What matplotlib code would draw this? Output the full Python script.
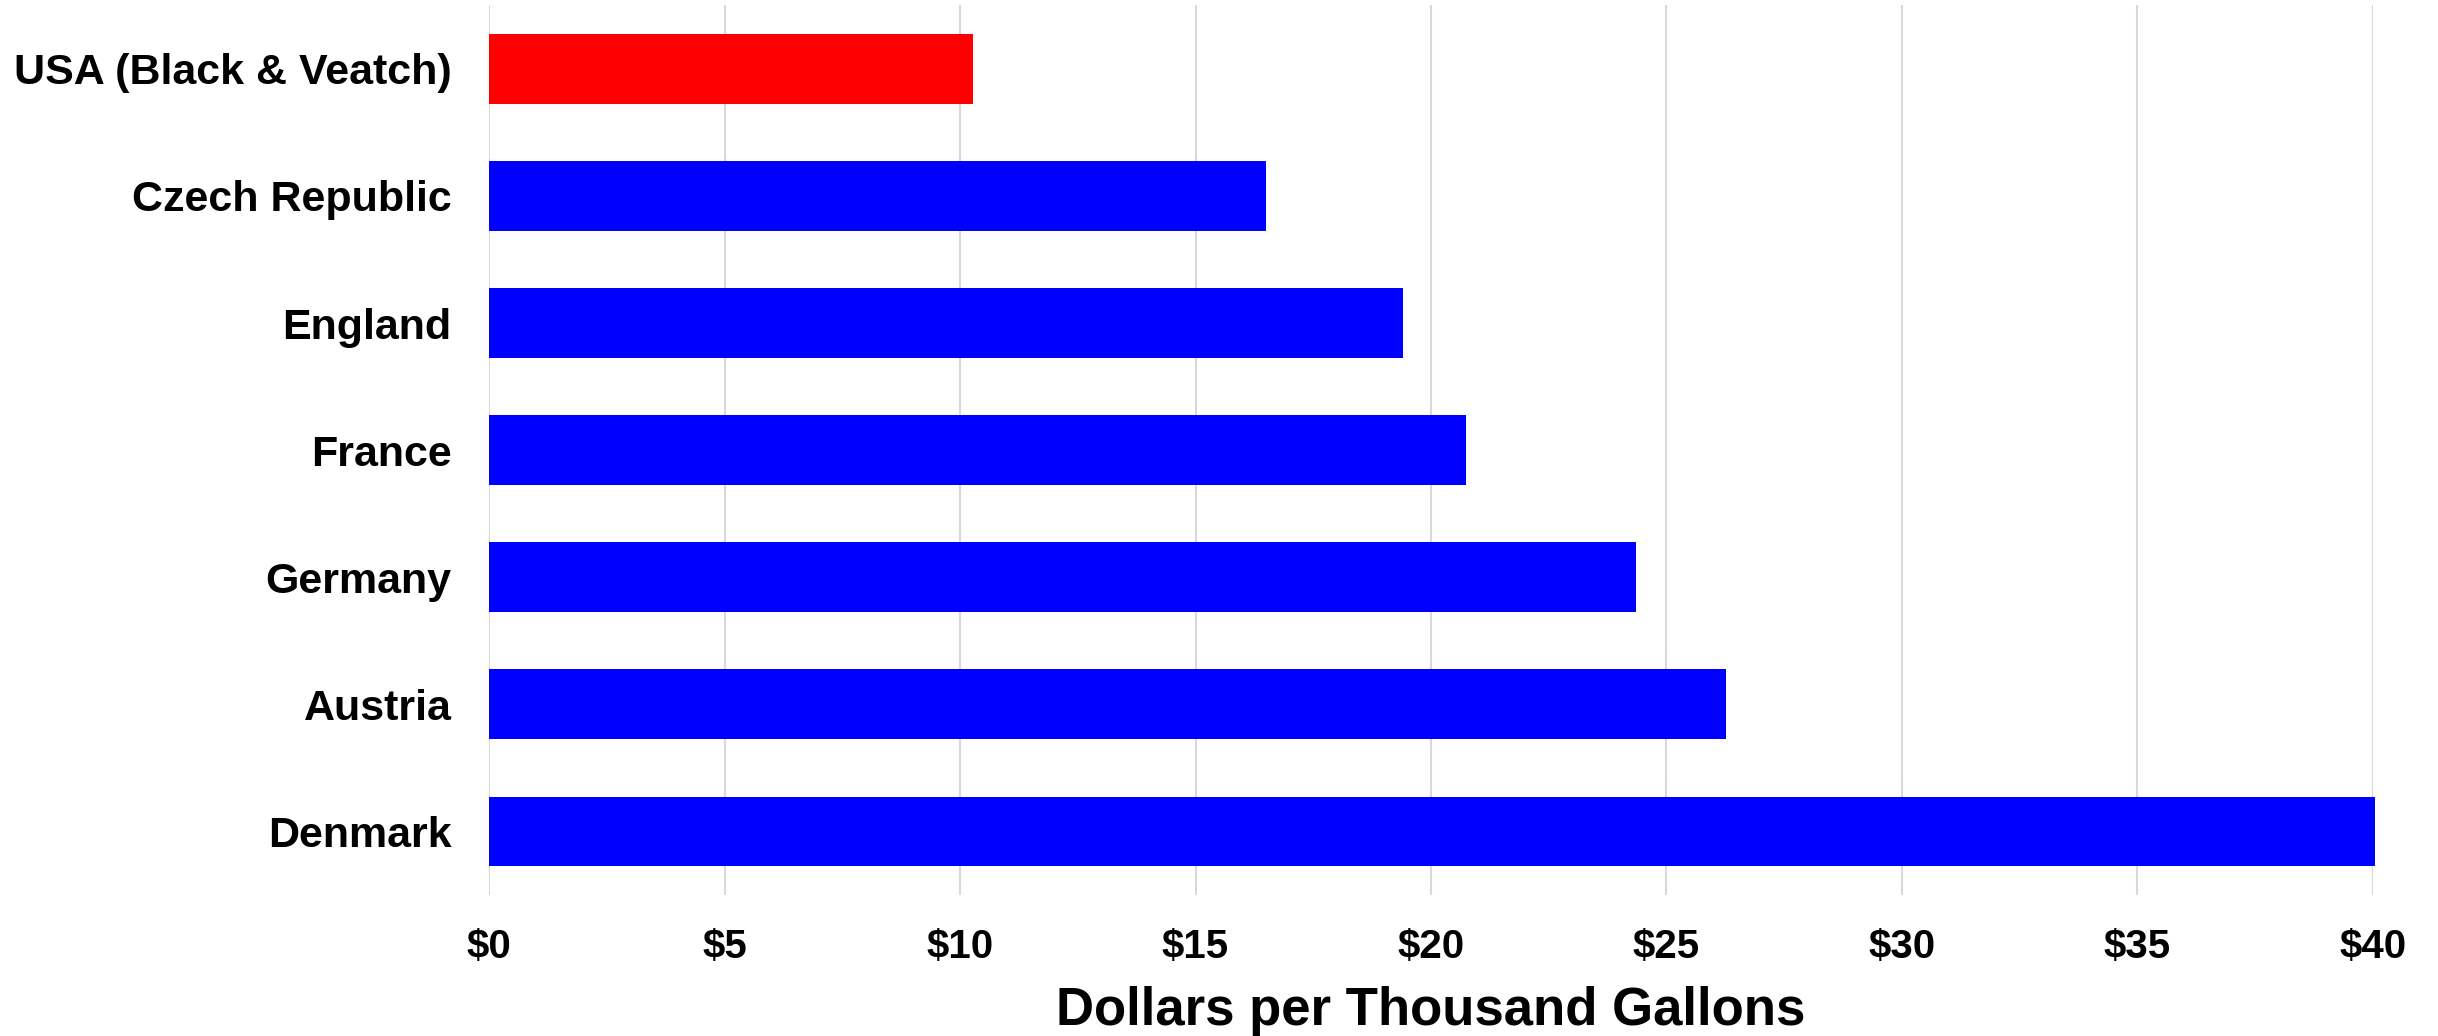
import matplotlib
matplotlib.use("Agg")
import matplotlib.pyplot as plt
from matplotlib.ticker import FuncFormatter

# cost per thousand gallons, top to bottom
countries = ["USA (Black & Veatch)", "Czech Republic", "England", "France",
             "Germany", "Austria", "Denmark"]
costs = [10.27, 16.5, 19.4, 20.75, 24.35, 26.27, 40.05]
bar_colors = ["#ff0000", "#0000ff", "#0000ff", "#0000ff",
              "#0000ff", "#0000ff", "#0000ff"]
x_ticks = [0, 5, 10, 15, 20, 25, 30, 35, 40]

plt.rcParams["font.family"] = ["Liberation Sans", "DejaVu Sans"]
plt.rcParams["font.weight"] = "bold"

fig = plt.figure(figsize=(24.38, 10.36), dpi=100)
ax = fig.add_axes([0.2006, 0.136, 0.7727, 0.859])

ypos = list(range(len(countries)))
ax.barh(ypos, costs, height=0.55, color=bar_colors, zorder=3, clip_on=False)

ax.set_xlim(0, 40)
ax.set_ylim(len(countries) - 0.5, -0.5)
ax.set_yticks(ypos)
ax.set_yticklabels(countries, fontsize=31, fontweight="bold")
ax.set_xticks(x_ticks)
ax.xaxis.set_major_formatter(FuncFormatter(lambda v, p: f"${v:.0f}"))
ax.tick_params(axis="x", length=0, pad=24, labelsize=29)
ax.tick_params(axis="y", length=0, pad=27)
for lbl in ax.get_xticklabels():
    lbl.set_fontweight("bold")

ax.grid(axis="x", color="#d9d9d9", linewidth=1.5, zorder=0)
for s in ax.spines.values():
    s.set_visible(False)

ax.set_xlabel("Dollars per Thousand Gallons", fontsize=38, fontweight="bold",
              labelpad=14)

fig.savefig("out.png", dpi=100, facecolor="white")
